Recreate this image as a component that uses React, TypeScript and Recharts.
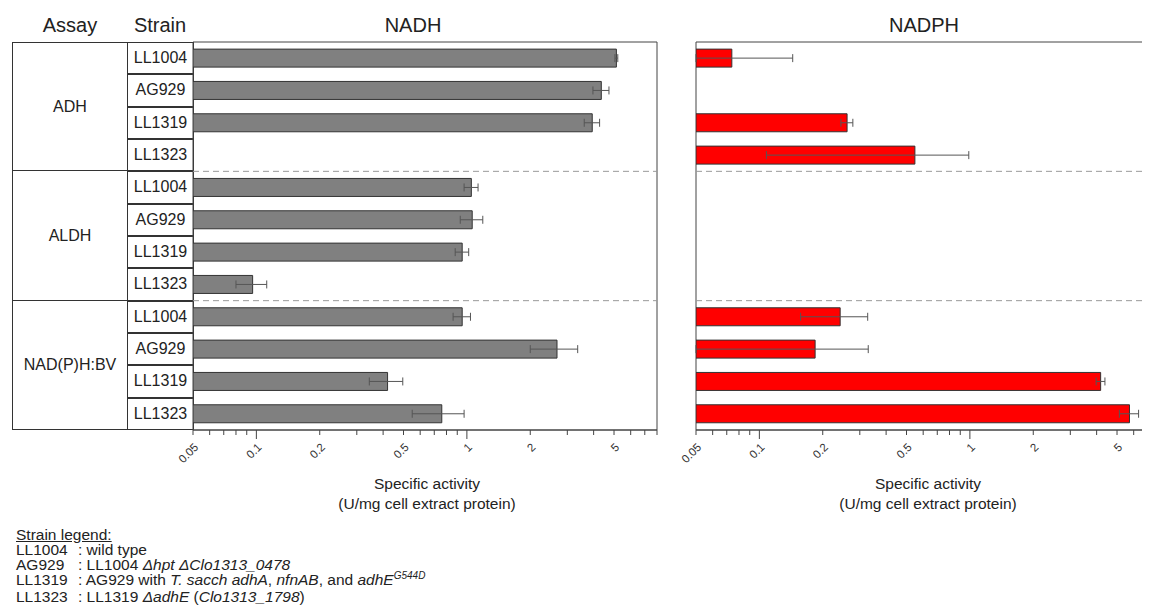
import React from "react";
import {
  Bar,
  BarChart,
  ErrorBar,
  ReferenceArea,
  ReferenceLine,
  XAxis,
  YAxis,
} from "recharts";

const ASSAYS = ["ADH", "ALDH", "NAD(P)H:BV"];
const STRAINS = ["LL1004", "AG929", "LL1319", "LL1323"];

// one value per assay/strain row, in table order (null = not measured)
const NADH = [5.13, 4.35, 3.94, null, 1.05, 1.06, 0.95, 0.096, 0.95, 2.68, 0.42, 0.76];
const NADH_ERR = [0.08, 0.38, 0.33, null, 0.08, 0.13, 0.07, 0.016, 0.09, 0.68, 0.076, 0.21];
const NADPH = [0.074, null, 0.261, 0.548, null, null, null, null, 0.242, 0.184, 4.18, 5.73];
const NADPH_ERR = [0.07, null, 0.017, 0.44, null, null, null, null, 0.085, 0.145, 0.2, 0.6];

const DOMAIN: [number, number] = [0.05, 8];
const TICKS = [
  0.05, 0.06, 0.07, 0.08, 0.09, 0.1, 0.2, 0.3, 0.4, 0.5, 0.6, 0.7, 0.8, 0.9,
  1, 2, 3, 4, 5, 6, 7, 8,
];
const TICK_LABELS: Record<string, string> = {
  "0.05": "0.05",
  "0.1": "0.1",
  "0.2": "0.2",
  "0.5": "0.5",
  "1": "1",
  "2": "2",
  "5": "5",
};

const FONT = '"Liberation Sans", Arial, sans-serif';
const TOP = 42;
const PLOT_H = 388;
const ROW_H = PLOT_H / 12;
const PLOT_W = 464;
const M_LEFT = 30;

function errRange(v: number | null, e: number | null) {
  if (v == null || e == null) return undefined;
  return [Math.min(e, v - DOMAIN[0]), e];
}

const rows = ASSAYS.flatMap((a, ai) =>
  STRAINS.map((s, si) => {
    const i = ai * 4 + si;
    return {
      id: `${a}|${s}`,
      nadh: NADH[i],
      nadhErr: errRange(NADH[i], NADH_ERR[i]),
      nadph: NADPH[i],
      nadphErr: errRange(NADPH[i], NADPH_ERR[i]),
    };
  })
);

const LogTick = (props: any) => {
  const { x, y, payload } = props;
  const v = payload.value;
  const label = TICK_LABELS[String(v)];
  const decade = v === 0.1 || v === 1;
  const tx = x + 6;
  const ty = y + 18;
  return (
    <g>
      <line x1={x} y1={y} x2={x} y2={y + (decade ? 9 : 5)} stroke="#444" />
      {label && (
        <text
          x={tx}
          y={ty}
          transform={`rotate(-45 ${tx} ${ty})`}
          textAnchor="end"
          fontSize={11.5}
          fontFamily={FONT}
          fill="#333"
        >
          {label}
        </text>
      )}
    </g>
  );
};

function Panel({ dataKey, errKey, fill, left }: { dataKey: string; errKey: string; fill: string; left: number }) {
  const w = M_LEFT + PLOT_W + 1;
  const h = 1 + PLOT_H + 50;
  return (
    <div style={{ position: "absolute", left: left - M_LEFT, top: TOP - 1, width: w, height: h }}>
      <BarChart
        width={w}
        height={h}
        data={rows}
        layout="vertical"
        margin={{ top: 1, right: 1, left: M_LEFT, bottom: 0 }}
        barCategoryGap="22%"
      >
        <XAxis
          type="number"
          scale="log"
          domain={DOMAIN}
          allowDataOverflow
          ticks={TICKS}
          interval={0}
          tick={<LogTick />}
          tickLine={false}
          tickSize={0}
          tickMargin={0}
          height={50}
          stroke="#444"
        />
        <YAxis type="category" dataKey="id" hide />
        <ReferenceArea x1={DOMAIN[0]} x2={DOMAIN[1]} fill="none" stroke="#444" strokeWidth={1} fillOpacity={0} />
        <ReferenceLine y="ALDH|LL1004" position="start" stroke="#999" strokeDasharray="6 4" />
        <ReferenceLine y="NAD(P)H:BV|LL1004" position="start" stroke="#999" strokeDasharray="6 4" />
        <Bar dataKey={dataKey} fill={fill} stroke="#333" strokeWidth={1} isAnimationActive={false}>
          <ErrorBar dataKey={errKey} direction="x" width={4} stroke="#555" strokeWidth={1} />
        </Bar>
      </BarChart>
    </div>
  );
}

const abs = (style: React.CSSProperties): React.CSSProperties => ({ position: "absolute", ...style });
const nameCol: React.CSSProperties = { display: "inline-block", width: 62 };

export default function App() {
  return (
    <div
      style={{
        position: "relative",
        margin: -8,
        width: 1150,
        height: 614,
        overflow: "hidden",
        background: "#fff",
        fontFamily: FONT,
        color: "#222",
      }}
    >
      {/* column headers */}
      <div style={abs({ left: 70, top: 14, fontSize: 20, transform: "translateX(-50%)" })}>Assay</div>
      <div style={abs({ left: 160, top: 14, fontSize: 20, transform: "translateX(-50%)" })}>Strain</div>
      <div style={abs({ left: 413, top: 14, fontSize: 20, transform: "translateX(-50%)" })}>NADH</div>
      <div style={abs({ left: 924, top: 14, fontSize: 20, transform: "translateX(-50%)" })}>NADPH</div>

      {/* assay column */}
      <div style={abs({ left: 12, top: TOP, width: 116, height: PLOT_H, border: "1px solid #333", boxSizing: "border-box" })} />
      {ASSAYS.map((a, ai) => (
        <React.Fragment key={a}>
          {ai > 0 && (
            <div style={abs({ left: 12, top: TOP + ai * 4 * ROW_H - 1, width: 116, height: 0, borderTop: "1px solid #333" })} />
          )}
          <div
            style={abs({
              left: 12,
              width: 116,
              top: TOP + ai * 4 * ROW_H,
              height: 4 * ROW_H,
              display: "flex",
              alignItems: "center",
              justifyContent: "center",
              fontSize: 16,
            })}
          >
            {a}
          </div>
          {STRAINS.map((s, si) => (
            <div
              key={s}
              style={abs({
                left: 127,
                width: 67,
                top: TOP + (ai * 4 + si) * ROW_H,
                height: ROW_H,
                border: "1px solid #333",
                boxSizing: "border-box",
                display: "flex",
                alignItems: "center",
                justifyContent: "center",
                fontSize: 16,
              })}
            >
              {s}
            </div>
          ))}
        </React.Fragment>
      ))}

      <Panel dataKey="nadh" errKey="nadhErr" fill="#808080" left={193} />
      <Panel dataKey="nadph" errKey="nadphErr" fill="#ff0000" left={696} />

      {/* axis titles */}
      <div style={abs({ left: 427, top: 474, fontSize: 15.5, lineHeight: "20px", textAlign: "center", transform: "translateX(-50%)", whiteSpace: "nowrap" })}>
        Specific activity
        <br />
        (U/mg cell extract protein)
      </div>
      <div style={abs({ left: 928, top: 474, fontSize: 15.5, lineHeight: "20px", textAlign: "center", transform: "translateX(-50%)", whiteSpace: "nowrap" })}>
        Specific activity
        <br />
        (U/mg cell extract protein)
      </div>

      {/* strain legend */}
      <div style={abs({ left: 16, top: 527, fontSize: 15.5, lineHeight: "15px", whiteSpace: "nowrap" })}>
        <div style={{ textDecoration: "underline" }}>Strain legend:</div>
        <div>
          <span style={nameCol}>LL1004</span>: wild type
        </div>
        <div>
          <span style={nameCol}>AG929</span>: LL1004 <i>Δhpt ΔClo1313_0478</i>
        </div>
        <div>
          <span style={nameCol}>LL1319</span>: AG929 with <i>T. sacch adhA</i>, <i>nfnAB</i>, and <i>adhE</i>
          <span style={{ fontSize: 10, fontStyle: "italic", position: "relative", top: -6 }}>G544D</span>
        </div>
        <div>
          <span style={nameCol}>LL1323</span>: LL1319 <i>ΔadhE</i> (<i>Clo1313_1798</i>)
        </div>
      </div>
    </div>
  );
}
